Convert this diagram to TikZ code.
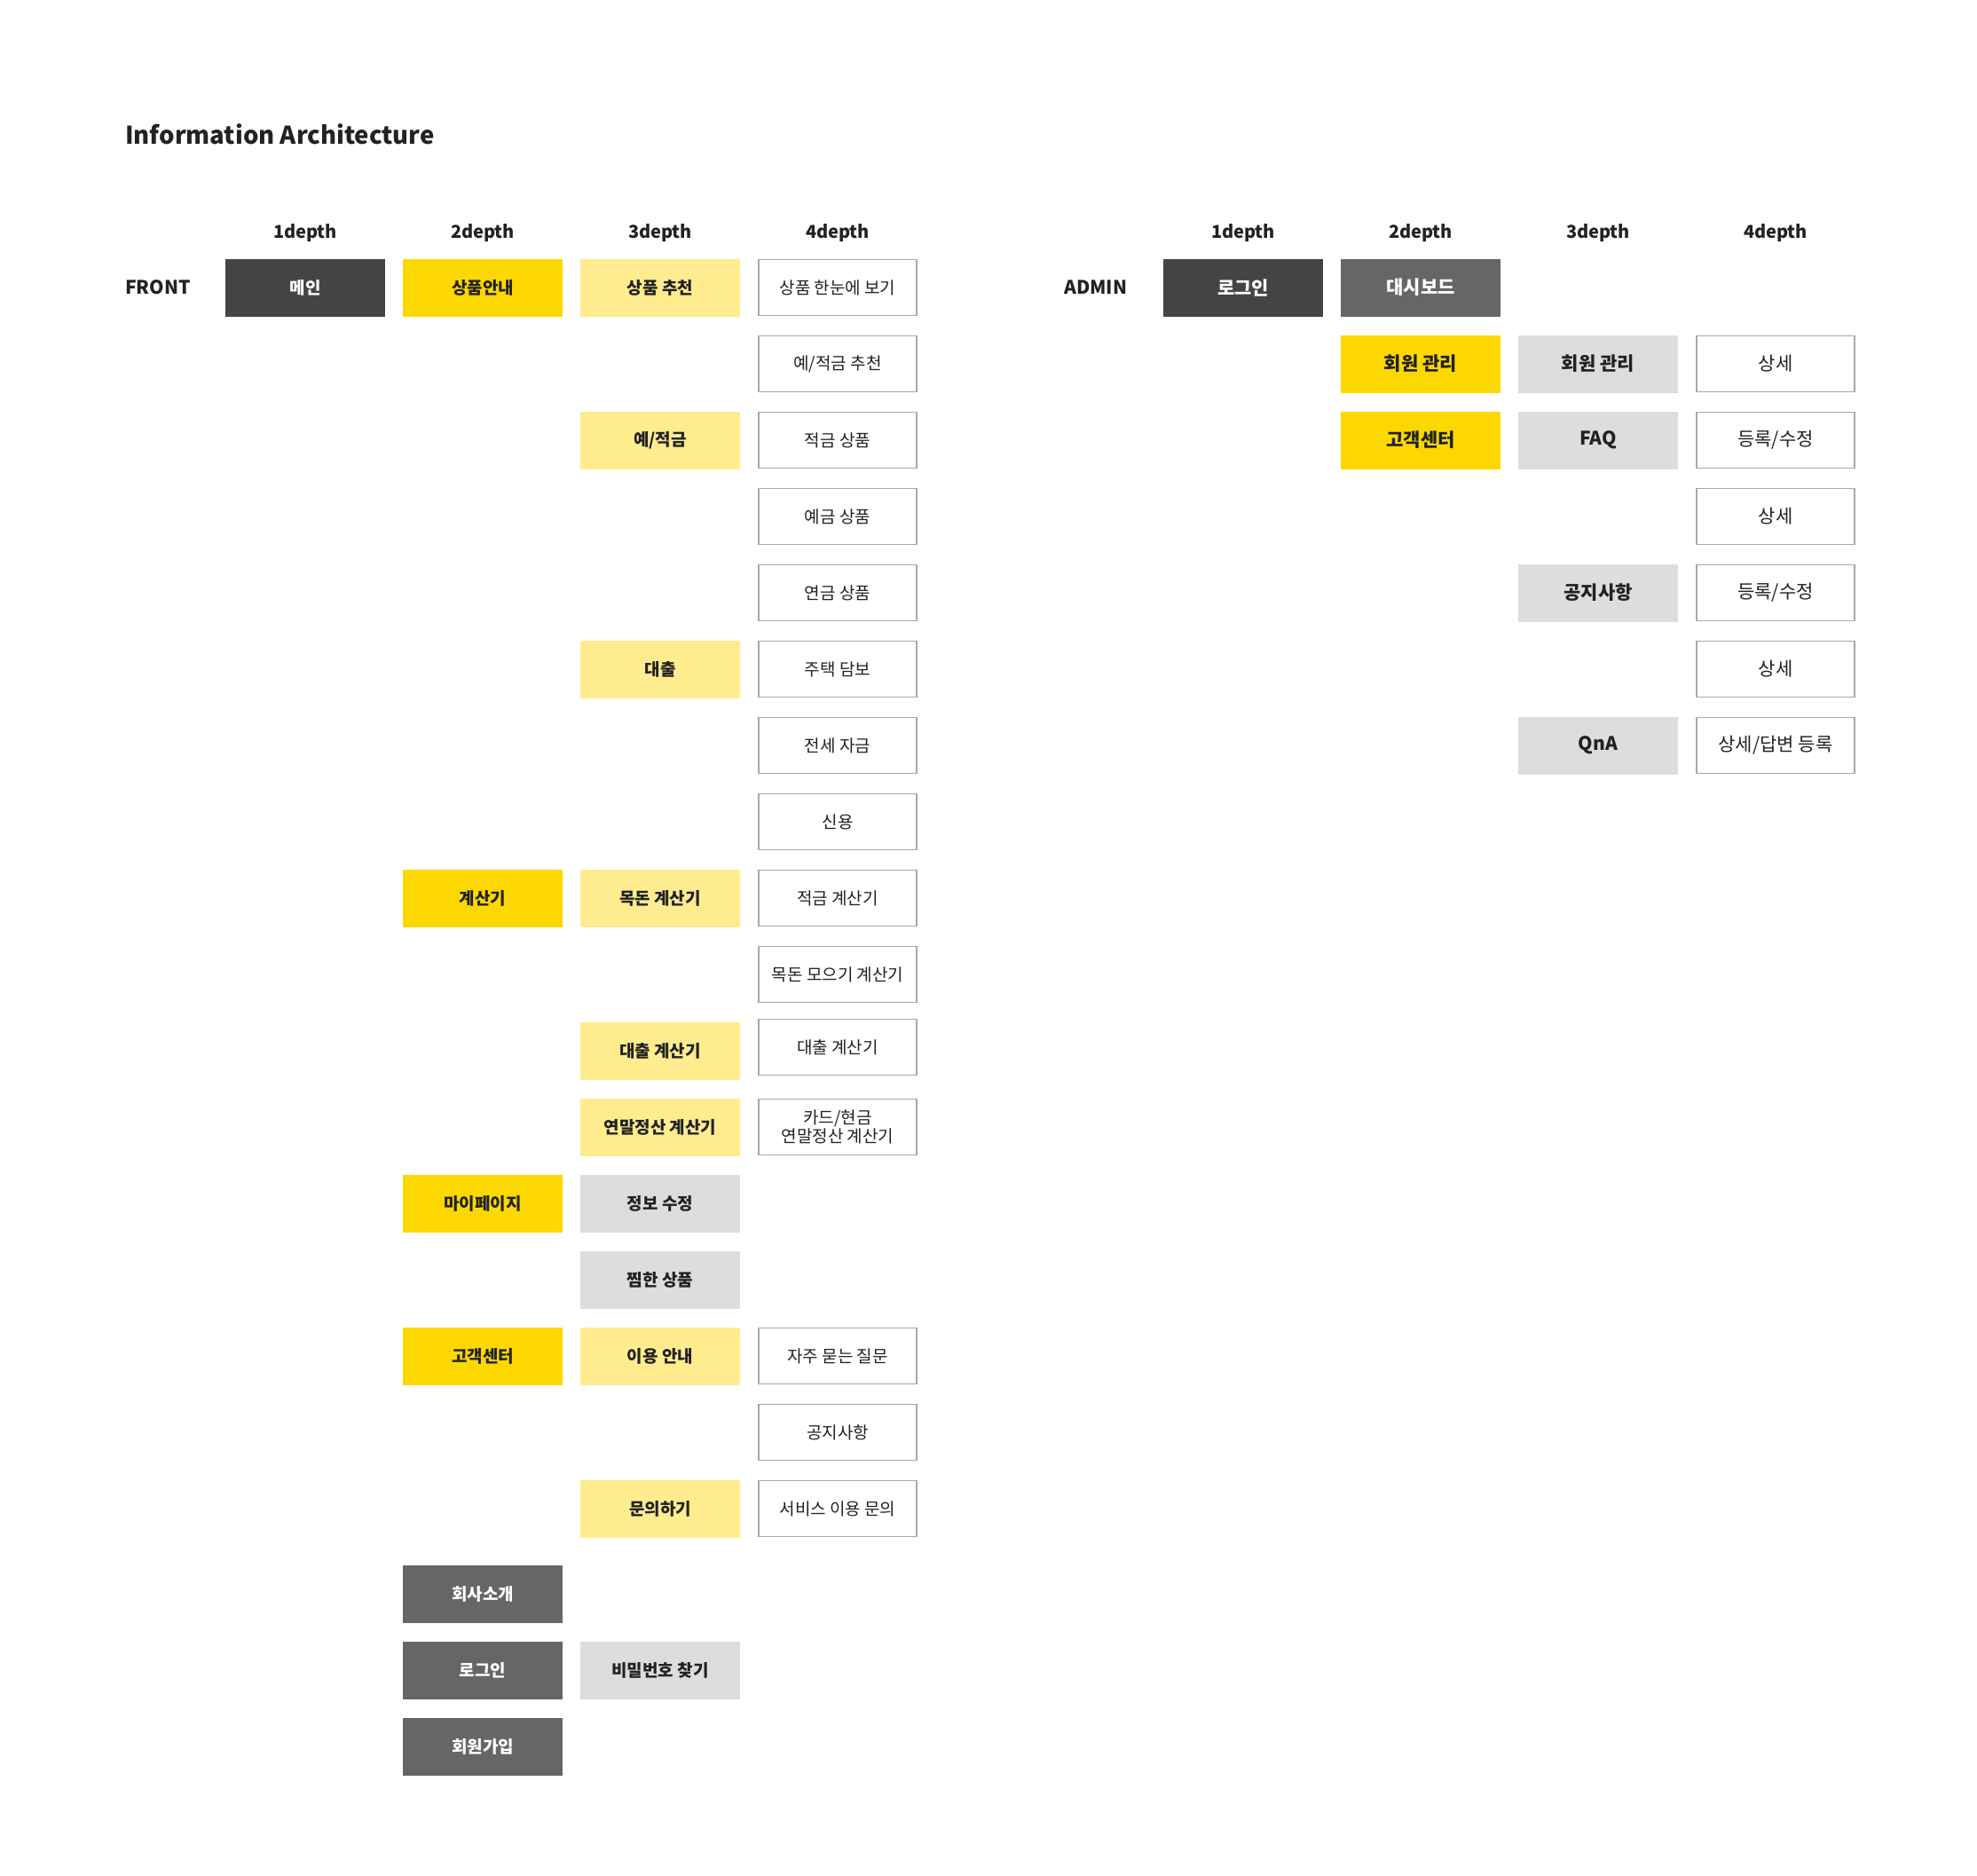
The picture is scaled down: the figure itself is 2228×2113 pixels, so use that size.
\documentclass[tikz,border=0pt]{standalone}
\usepackage{fontspec}
\setmainfont{Noto Sans CJK KR}
\definecolor{cdark}{HTML}{444444}
\definecolor{cmid}{HTML}{666666}
\definecolor{cyel}{HTML}{FCD800}
\definecolor{clyel}{HTML}{FEEC8E}
\definecolor{clgray}{HTML}{DDDDDD}
\definecolor{cborder}{HTML}{A8A8A8}
\definecolor{ctxt}{HTML}{222222}
\newcommand{\bxfont}{\fontsize{19}{21}\selectfont}
\newcommand{\adfont}{\fontsize{21}{24}\selectfont}
\tikzset{
  box/.style={minimum width=180pt, minimum height=65pt, inner sep=0pt, align=center, text=ctxt, font=\bxfont\bfseries},
  dk/.style={box, fill=cdark, text=white},
  md/.style={box, fill=cmid, text=white},
  ye/.style={box, fill=cyel},
  ly/.style={box, fill=clyel},
  lg/.style={box, fill=clgray},
  wh/.style={box, fill=white, draw=cborder, line width=1.8pt, minimum width=178pt, minimum height=63pt, font=\bxfont},
  ad/.style={font=\adfont\bfseries},
  adw/.style={font=\adfont},
  hdr/.style={text=ctxt, font=\fontsize{20}{24}\selectfont\bfseries},
  sec/.style={text=ctxt, font=\fontsize{21}{25}\selectfont\bfseries, anchor=west, inner sep=0pt},
}
\begin{document}
\begin{tikzpicture}[x=1pt,y=-1pt]
\useasboundingbox[fill=white] (0,0) rectangle (2228,2113);
\node[text=ctxt, font=\fontsize{27.5}{32}\selectfont\bfseries, anchor=west, inner sep=0pt] (title) at (141,151) {Information Architecture};

% ---------- FRONT ----------
\node[hdr] (fh1) at (344,263) {1depth};
\node[hdr] (fh2) at (544,263) {2depth};
\node[hdr] (fh3) at (744,263) {3depth};
\node[hdr] (fh4) at (944,263) {4depth};
\node[sec] (front) at (141,324) {FRONT};

\node[dk] (f1main) at (344,324) {메인};

\node[ye] (f2prod) at (544,324) {상품안내};
\node[ye] (f2calc) at (544,1012) {계산기};
\node[ye] (f2my) at (544,1356) {마이페이지};
\node[ye] (f2cs) at (544,1528) {고객센터};
\node[md] (f2comp) at (544,1796) {회사소개};
\node[md] (f2login) at (544,1882) {로그인};
\node[md] (f2join) at (544,1968) {회원가입};

\node[ly] (f3rec) at (744,324) {상품 추천};
\node[ly] (f3dep) at (744,496) {예/적금};
\node[ly] (f3loan) at (744,754) {대출};
\node[ly] (f3goal) at (744,1012) {목돈 계산기};
\node[ly] (f3lcalc) at (744,1184) {대출 계산기};
\node[ly] (f3tax) at (744,1270) {연말정산 계산기};
\node[lg] (f3edit) at (744,1356) {정보 수정};
\node[lg] (f3wish) at (744,1442) {찜한 상품};
\node[ly] (f3guide) at (744,1528) {이용 안내};
\node[ly] (f3ask) at (744,1700) {문의하기};
\node[lg] (f3pw) at (744,1882) {비밀번호 찾기};

\node[wh] (f4all) at (944,324) {상품 한눈에 보기};
\node[wh] (f4rec) at (944,410) {예/적금 추천};
\node[wh] (f4sav) at (944,496) {적금 상품};
\node[wh] (f4dep) at (944,582) {예금 상품};
\node[wh] (f4pen) at (944,668) {연금 상품};
\node[wh] (f4house) at (944,754) {주택 담보};
\node[wh] (f4jeon) at (944,840) {전세 자금};
\node[wh] (f4cred) at (944,926) {신용};
\node[wh] (f4scalc) at (944,1012) {적금 계산기};
\node[wh] (f4gcalc) at (944,1098) {목돈 모으기 계산기};
\node[wh] (f4lcalc) at (944,1180) {대출 계산기};
\node[wh] (f4tax) at (944,1270) {카드/현금\\연말정산 계산기};
\node[wh] (f4faq) at (944,1528) {자주 묻는 질문};
\node[wh] (f4notice) at (944,1614) {공지사항};
\node[wh] (f4svc) at (944,1700) {서비스 이용 문의};

% ---------- ADMIN ----------
\node[hdr] (ah1) at (1401,263) {1depth};
\node[hdr] (ah2) at (1601,263) {2depth};
\node[hdr] (ah3) at (1801,263) {3depth};
\node[hdr] (ah4) at (2001,263) {4depth};
\node[sec] (admin) at (1199,324) {ADMIN};

\node[dk,ad] (a1login) at (1401,324) {로그인};

\node[md,ad] (a2dash) at (1601,324) {대시보드};
\node[ye,ad] (a2mem) at (1601,410) {회원 관리};
\node[ye,ad] (a2cs) at (1601,496) {고객센터};

\node[lg,ad] (a3mem) at (1801,410) {회원 관리};
\node[lg,ad] (a3faq) at (1801,496) {FAQ};
\node[lg,ad] (a3notice) at (1801,668) {공지사항};
\node[lg,ad] (a3qna) at (1801,840) {QnA};

\node[wh,adw] (a4memd) at (2001,410) {상세};
\node[wh,adw] (a4faqe) at (2001,496) {등록/수정};
\node[wh,adw] (a4faqd) at (2001,582) {상세};
\node[wh,adw] (a4note) at (2001,668) {등록/수정};
\node[wh,adw] (a4notd) at (2001,754) {상세};
\node[wh,adw] (a4qna) at (2001,840) {상세/답변 등록};
\end{tikzpicture}
\end{document}
